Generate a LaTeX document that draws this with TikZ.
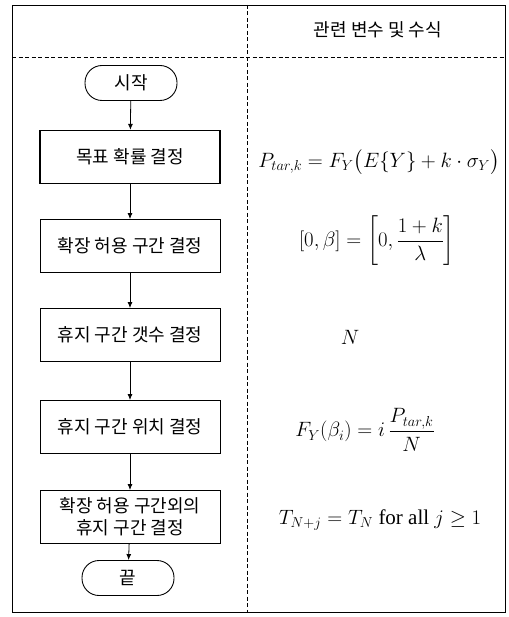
\documentclass[tikz,border=0pt]{standalone}
\usepackage{amsmath}
\usepackage{fontspec}
\setmainfont{Liberation Serif}
\newfontfamily\kr{Noto Sans CJK KR}
\usetikzlibrary{arrows.meta}
\begin{document}
\begin{tikzpicture}[x=1pt,y=-1pt,
  proc/.style={draw, line width=0.9pt, minimum width=180pt, minimum height=53pt,
    font=\kr\fontsize{18}{22}\selectfont, inner sep=0pt, align=center},
  term/.style={draw, line width=0.9pt, rounded corners=17pt, minimum width=92pt,
    minimum height=35pt, font=\kr\fontsize{18}{22}\selectfont, inner sep=0pt},
  flow/.style={-{Latex[length=6pt,width=5pt]}, line width=0.8pt},
  frame/.style={line width=0.8pt},
  divider/.style={dash pattern=on 4pt off 2.5pt, line width=0.9pt},
  formula/.style={font=\fontsize{21}{25}\selectfont, inner sep=0pt},
  header/.style={font=\kr\fontsize{18}{22}\selectfont, inner sep=0pt}]
\useasboundingbox (0,0) rectangle (508,617);
% frame
\draw[frame] (12,5) rectangle (505,612);
\draw[divider] (12,57) -- (505,57);
\draw[divider] (247,5) -- (247,612);
\node[header] (hdr) at (378,30) {관련 변수 및 수식};
% flowchart
\node[term] (start) at (131,83) {시작};
\node[proc, line width=1.3pt] (s1) at (130,157) {목표 확률 결정};
\node[proc] (s2) at (130,246) {확장 허용 구간 결정};
\node[proc] (s3) at (130,335) {휴지 구간 갯수 결정};
\node[proc] (s4) at (130,427) {휴지 구간 위치 결정};
\node[proc] (s5) at (130,517) {확장 허용 구간외의\\휴지 구간 결정};
\node[term] (end) at (128,578) {끝};
\draw[flow] (start) -- (s1);
\draw[flow] (s1) -- (s2);
\draw[flow] (s2) -- (s3);
\draw[flow] (s3) -- (s4);
\draw[flow] (s4) -- (s5);
\draw[flow] (s5) -- (end);
% formulas
\node[formula] (f1) at (379,162) {$P_{tar,k} = F_Y\bigl(E\{Y\} + k\cdot\sigma_Y\bigr)$};
\node[formula] (f2) at (377,241) {$[0,\beta] = \left[0, \dfrac{1+k}{\lambda}\right]$};
\node[formula] (f3) at (350,337) {$N$};
\node[formula] (f4) at (365,430) {$F_Y(\beta_i) = i\,\dfrac{P_{tar,k}}{N}$};
\node[formula] (f5) at (380,520) {$T_{N+j} = T_N$ for all $j \ge 1$};
\end{tikzpicture}
\end{document}
